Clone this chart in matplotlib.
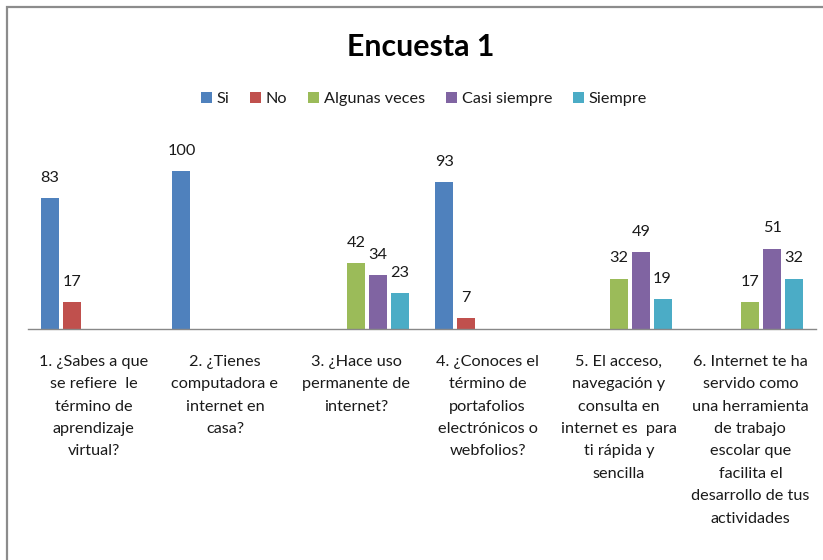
import matplotlib
matplotlib.use("Agg")
import matplotlib.pyplot as plt
from matplotlib.patches import Rectangle
import numpy as np

plt.rcParams['font.family'] = ['Lato', 'DejaVu Sans']

categories = [
    "1. ¿Sabes a que\nse refiere  le\ntérmino de\naprendizaje\nvirtual?",
    "2. ¿Tienes\ncomputadora e\ninternet en\ncasa?",
    "3. ¿Hace uso\npermanente de\ninternet?",
    "4. ¿Conoces el\ntérmino de\nportafolios\nelectrónicos o\nwebfolios?",
    "5. El acceso,\nnavegación y\nconsulta en\ninternet es  para\nti rápida y\nsencilla",
    "6. Internet te ha\nservido como\nuna herramienta\nde trabajo\nescolar que\nfacilita el\ndesarrollo de tus\nactividades",
]
series_names = ["Si", "No", "Algunas veces", "Casi siempre", "Siempre"]
si = [83, 100, 0, 93, 0, 0]
no = [17, 0, 0, 7, 0, 0]
algunas = [0, 0, 42, 0, 32, 17]
casi = [0, 0, 34, 0, 49, 51]
siempre = [0, 0, 23, 0, 19, 32]
colors = ["#4F81BD", "#C0504D", "#9BBB59", "#8064A2", "#4BACC6"]

W, H = 823, 560
fig = plt.figure(figsize=(W / 100, H / 100), dpi=100)
fig.patch.set_facecolor("white")

# chart border
fig.patches.append(Rectangle((7 / W, -0.1), 1.2, (H - 7) / H + 0.1,
                             transform=fig.transFigure, fill=False,
                             edgecolor="#8c8c8c", linewidth=1.6, clip_on=False))

base_y = 329.3
top_y = base_y - 190
ax = fig.add_axes([28 / W, (H - base_y) / H, 788 / W, (base_y - top_y) / H])
ax.set_xlim(-0.5, 5.5)
ax.set_ylim(0, 120)

pitch = 0.1658
bw = 0.137
x = np.arange(len(categories))
all_series = [si, no, algunas, casi, siempre]
handles = []
for k, (vals, name, c) in enumerate(zip(all_series, series_names, colors)):
    pos = x + (k - 2) * pitch
    bars = ax.bar(pos, vals, width=bw, color=c, label=name, linewidth=0)
    handles.append(bars)
    for p, v in zip(pos, vals):
        if v > 0:
            ax.annotate(str(v), (p, v), xytext=(0, 14.5), textcoords="offset points",
                        ha="center", va="center", fontsize=11.7, color="#1a1a1a")

for s in ["top", "right", "left"]:
    ax.spines[s].set_visible(False)
ax.spines["bottom"].set_color("#888888")
ax.spines["bottom"].set_linewidth(1.0)
ax.set_yticks([])
ax.set_xticks(x)
ax.set_xticklabels(categories, fontsize=11.7, color="#1a1a1a", linespacing=1.76,
                   va="top")
ax.tick_params(axis="x", length=0, pad=18.5)

fig.text(421 / W, 1 - 47 / H, "Encuesta 1", ha="center", va="center",
         fontsize=21.8, fontweight="bold", color="black")

fig.legend(handles=handles, labels=series_names, loc="center",
           bbox_to_anchor=(424 / W, 1 - 99 / H), ncol=5, frameon=False,
           fontsize=11.7, handlelength=0.65, handleheight=0.65,
           handletextpad=0.3, columnspacing=1.3, labelcolor="#1a1a1a")

fig.savefig("out.png", dpi=100, facecolor="white")
